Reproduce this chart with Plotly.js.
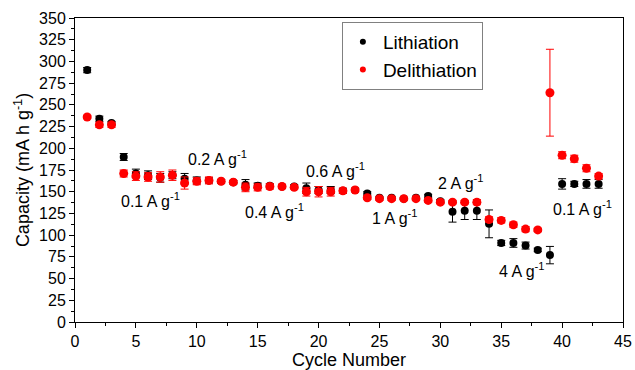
<!DOCTYPE html>
<html><head><meta charset="utf-8">
<script src="https://cdn.plot.ly/plotly-3.0.1.min.js"></script>
<style>html,body{margin:0;padding:0;background:#fff}#chart{width:635px;height:370px}</style>
</head><body><div id="chart"></div>
<script>
const cycles = [1,2,3,4,5,6,7,8,9,10,11,12,13,14,15,16,17,18,19,20,21,22,23,24,25,26,27,28,29,30,31,32,33,34,35,36,37,38,39,40,41,42,43];
const lithiation = [290,234,229,190,171,169,166,169,165,163,163,162,161,158,157,157,156,156,154,152,152,151,152,148,143,143,142,143,145,139,127,128,128,113,91,91,88,83,77,159,159,159,159];
const lithiationErr = [3,3,2,4,5,5,5,4,6,4,3,2,2,6,3,2,2,2,6,4,4,3,2,2,1,1,1,1,2,2,12,10,10,16,3,5,4,2,10,6,3,5,5];
const delithiation = [236,227,227,171,168,167,167,169,160,162,163,162,161,155,155,156,156,155,150,150,150,151,152,143,142,142,142,142,140,138,138,138,138,118,117,112,107,106,264,192,188,177,168];
const delithiationErr = [2,3,3,4,5,5,6,6,7,4,4,2,2,5,4,3,2,2,5,6,5,3,2,2,2,2,1,1,2,2,2,2,3,3,3,3,3,2,50,4,4,4,3];
const seriesNames = ['Lithiation', 'Delithiation'];
const rateLabels = ['0.1 A g<sup>-1</sup>','0.2 A g<sup>-1</sup>','0.4 A g<sup>-1</sup>','0.6 A g<sup>-1</sup>','1 A g<sup>-1</sup>','2 A g<sup>-1</sup>','4 A g<sup>-1</sup>','0.1 A g<sup>-1</sup>'];
const rateX = [6.2, 11.7, 16.4, 21.4, 26.3, 31.7, 36.7, 41.7];
const rateY = [140, 189, 128, 175, 121, 161, 60, 131];

const colors = ['#000000', '#ff0000'];
const traces = [
  {x: cycles, y: lithiation, name: seriesNames[0], type: 'scatter', mode: 'markers', showlegend: false,
   marker: {color: colors[0], size: 8},
   error_y: {type: 'data', array: lithiationErr, visible: true, color: colors[0], thickness: 1, width: 4}},
  {x: cycles, y: delithiation, name: seriesNames[1], type: 'scatter', mode: 'markers', showlegend: false,
   marker: {color: colors[1], size: 9},
   error_y: {type: 'data', array: delithiationErr, visible: true, color: colors[1], thickness: 1, width: 4}},
  {x: [null], y: [null], name: seriesNames[0], type: 'scatter', mode: 'markers', marker: {color: colors[0], size: 6}},
  {x: [null], y: [null], name: seriesNames[1], type: 'scatter', mode: 'markers', marker: {color: colors[1], size: 6}}
];

const font = {family: 'Liberation Sans, Arial, sans-serif', color: '#000'};
const layout = {
  width: 635, height: 370,
  margin: {l: 75, r: 12, t: 18, b: 48},
  paper_bgcolor: '#fff', plot_bgcolor: '#fff',
  font: Object.assign({size: 16}, font),
  showlegend: true,
  legend: {x: 0.487, y: 0.987, xanchor: 'left', yanchor: 'top', bordercolor: '#808080', borderwidth: 1,
           bgcolor: '#fff', font: Object.assign({size: 19}, font), itemwidth: 30, tracegroupgap: 0},
  xaxis: {range: [0, 45], dtick: 5, tick0: 0, showgrid: false, zeroline: false,
          showline: true, linecolor: '#000', linewidth: 1, mirror: true,
          ticks: 'outside', ticklen: 5, tickcolor: '#000',
          minor: {dtick: 2.5, ticks: 'outside', ticklen: 3, tickcolor: '#000'},
          tickfont: Object.assign({size: 16}, font),
          title: {text: 'Cycle Number', font: Object.assign({size: 18}, font), standoff: 2}},
  yaxis: {range: [0, 350], dtick: 25, tick0: 0, showgrid: false, zeroline: false,
          showline: true, linecolor: '#000', linewidth: 1, mirror: true,
          ticks: 'outside', ticklen: 5, tickcolor: '#000',
          minor: {dtick: 12.5, ticks: 'outside', ticklen: 3, tickcolor: '#000'},
          tickfont: Object.assign({size: 16}, font),
          title: {text: 'Capacity (mA h g<sup>-1</sup>)', font: Object.assign({size: 18}, font), standoff: 4}},
  annotations: rateLabels.map((t, i) => ({x: rateX[i], y: rateY[i], xref: 'x', yref: 'y', text: t,
    showarrow: false, font: Object.assign({size: 16}, font)}))
};
Plotly.newPlot('chart', traces, layout, {displayModeBar: false, staticPlot: true});
</script></body></html>
